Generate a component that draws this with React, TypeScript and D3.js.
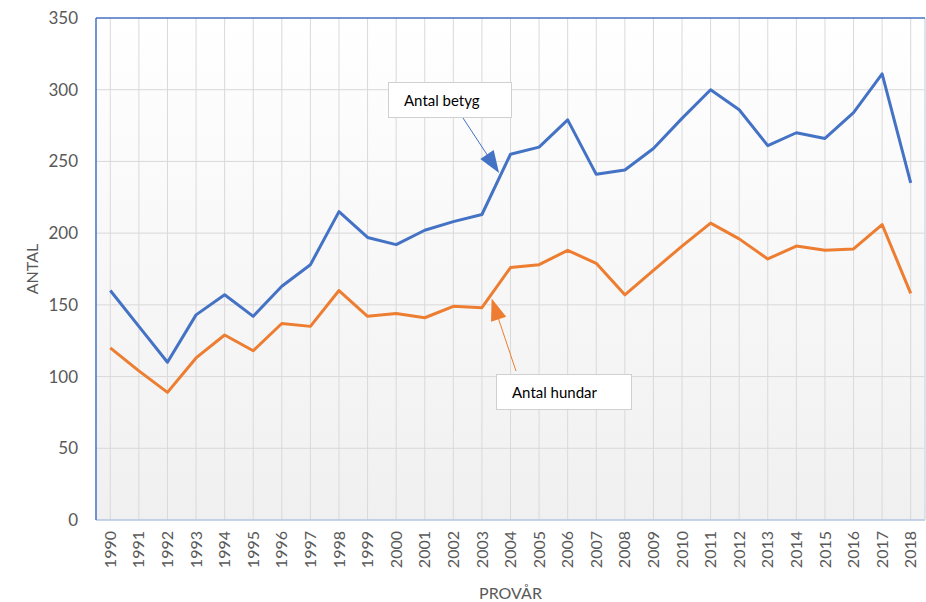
import * as d3 from 'd3'

const years = d3.range(1990, 2019).map(String)
const betyg = [160, 135, 110, 143, 157, 142, 163, 178, 215, 197, 192, 202, 208, 213, 255, 260, 279, 241, 244, 259, 280, 300, 286, 261, 270, 266, 284, 311, 235]
const hundar = [120, 104, 89, 113, 129, 118, 137, 135, 160, 142, 144, 141, 149, 148, 176, 178, 188, 179, 157, 174, 191, 207, 196, 182, 191, 188, 189, 206, 158]
const yTicks = [0, 50, 100, 150, 200, 250, 300, 350]

const width = 926
const height = 602
const margin = { top: 18, right: 1, bottom: 82, left: 96 }
const FONT = 'Lato, "Open Sans", sans-serif'

export default function App() {
  const x = d3.scaleBand()
    .domain(years)
    .range([margin.left, width - margin.right])
  const y = d3.scaleLinear()
    .domain([0, 350])
    .range([height - margin.bottom, margin.top])
  const cx = (i: number) => x(years[i])! + x.bandwidth() / 2

  const line = d3.line<number>()
    .x((_, i) => cx(i))
    .y(d => y(d))

  const left = margin.left
  const right = width - margin.right
  const top = margin.top
  const bottom = height - margin.bottom
  const step = x.step()

  // annotation anchors (tip points in data space)
  const betygTip = { x: x('2003')! + x.bandwidth() / 2 + 0.6 * step, y: y(242) }
  const betygFrom = { x: 463, y: 118 }
  const hundTip = { x: x('2003')! + x.bandwidth() / 2 + 0.34 * step, y: y(154.5) }
  const hundFrom = { x: 516, y: 371 }

  const arrowHead = (from: { x: number; y: number }, tip: { x: number; y: number }, len: number, half: number) => {
    const dx = tip.x - from.x
    const dy = tip.y - from.y
    const l = Math.hypot(dx, dy)
    const ux = dx / l
    const uy = dy / l
    const bx = tip.x - ux * len
    const by = tip.y - uy * len
    return `M${tip.x},${tip.y}L${bx - uy * half},${by + ux * half}L${bx + uy * half},${by - ux * half}Z`
  }
  const shaft = (from: { x: number; y: number }, tip: { x: number; y: number }, len: number) => {
    const dx = tip.x - from.x
    const dy = tip.y - from.y
    const l = Math.hypot(dx, dy)
    return { x: tip.x - (dx / l) * len, y: tip.y - (dy / l) * len }
  }
  const bEnd = shaft(betygFrom, betygTip, 15)
  const hEnd = shaft(hundFrom, hundTip, 15)

  return (
    <svg width={width} height={height} style={{ position: 'absolute', left: 0, top: 0, fontFamily: FONT }}>
      <defs>
        <linearGradient id="plotbg" x1="0" y1="0" x2="0" y2="1">
          <stop offset="0" stopColor="#ffffff" />
          <stop offset="1" stopColor="#f0f0f0" />
        </linearGradient>
      </defs>
      <rect width={width} height={height} fill="#ffffff" />
      <rect x={left} y={top} width={right - left} height={bottom - top} fill="url(#plotbg)" />

      {/* grid */}
      {yTicks.filter(t => t > 0 && t < 350).map(t => (
        <line key={t} x1={left} x2={right} y1={y(t)} y2={y(t)} stroke="#d9d9d9" strokeWidth={1} />
      ))}
      {years.map((yr, i) => (
        <line key={yr} x1={cx(i)} x2={cx(i)} y1={top} y2={bottom} stroke="#d9d9d9" strokeWidth={1} />
      ))}

      {/* plot borders */}
      <line x1={left} x2={right} y1={bottom} y2={bottom} stroke="#b4c4e0" strokeWidth={1.5} />
      <line x1={right} x2={right} y1={top} y2={bottom} stroke="#d3dbe9" strokeWidth={1.5} />
      <line x1={left} x2={right} y1={top} y2={top} stroke="#4472c4" strokeWidth={1.5} />
      <line x1={left} x2={left} y1={top} y2={bottom} stroke="#4472c4" strokeWidth={1.5} />

      {/* y ticks */}
      {yTicks.map(t => (
        <text key={t} x={78} y={y(t)} dy="0.35em" textAnchor="end" fontSize={17} fill="#595959">{t}</text>
      ))}
      {/* x ticks */}
      {years.map((yr, i) => (
        <text key={yr} transform={`translate(${cx(i)},${bottom + 11}) rotate(-90)`} dy="0.35em" textAnchor="end" fontSize={16} fill="#595959">{yr}</text>
      ))}

      <text transform={`translate(32,${(top + bottom) / 2}) rotate(-90)`} dy="0.35em" textAnchor="middle" fontSize={16} fill="#595959">ANTAL</text>
      <text x={(left + right) / 2} y={599} textAnchor="middle" fontSize={16} fill="#595959">PROVÅR</text>

      {/* series */}
      <path d={line(betyg)!} fill="none" stroke="#4472c4" strokeWidth={3} strokeLinejoin="round" />
      <path d={line(hundar)!} fill="none" stroke="#ed7d31" strokeWidth={3} strokeLinejoin="round" />

      {/* annotation: Antal betyg */}
      <line x1={betygFrom.x} y1={betygFrom.y} x2={bEnd.x} y2={bEnd.y} stroke="#4472c4" strokeWidth={1} />
      <path d={arrowHead(betygFrom, betygTip, 22, 8)} fill="#4472c4" />
      <rect x={388.5} y={82.5} width={123} height={35} fill="#ffffff" stroke="#d0d0d0" strokeWidth={1} />
      <text x={404} y={106} fontSize={15} fill="#000000">Antal betyg</text>

      {/* annotation: Antal hundar */}
      <line x1={hundFrom.x} y1={hundFrom.y} x2={hEnd.x} y2={hEnd.y} stroke="#ed7d31" strokeWidth={1} />
      <path d={arrowHead(hundFrom, hundTip, 22, 8)} fill="#ed7d31" />
      <rect x={496.5} y={374.5} width={135} height={35} fill="#ffffff" stroke="#d0d0d0" strokeWidth={1} />
      <text x={512} y={398} fontSize={15} fill="#000000">Antal hundar</text>
    </svg>
  )
}
